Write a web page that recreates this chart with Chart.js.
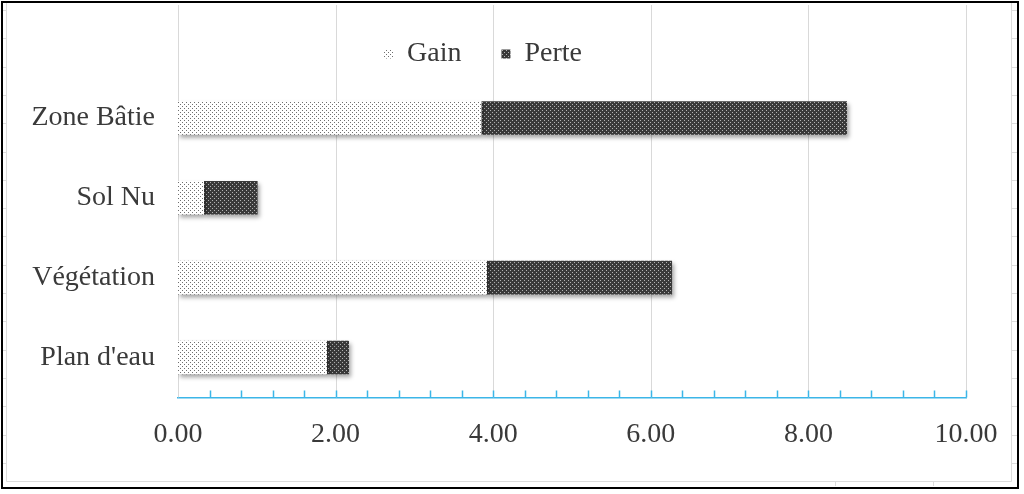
<!DOCTYPE html>
<html>
<head>
<meta charset="utf-8">
<script src="https://cdn.jsdelivr.net/npm/chart.js@4/dist/chart.umd.min.js"></script>
<style>
  html, body { margin:0; padding:0; background:#fff; }
  #wrap { width:1024px; height:494px; }
</style>
</head>
<body>
<div id="wrap"><canvas id="chart" width="1024" height="494"></canvas></div>
<script>
const categories = ['Zone Bâtie', 'Sol Nu', 'Végétation', "Plan d'eau"];
const gain  = [3.85, 0.33, 3.92, 1.89];
const perte = [4.64, 0.68, 2.35, 0.28];
const xTicks = [0, 2, 4, 6, 8, 10];
const minorStep = 0.4;

function makePattern(bg, dot){
  const c = document.createElement('canvas');
  c.width = 4; c.height = 4;
  const g = c.getContext('2d');
  g.fillStyle = bg; g.fillRect(0,0,4,4);
  g.fillStyle = dot;
  g.fillRect(0,0,1,1);
  g.fillRect(2,2,1,1);
  return g.createPattern(c, 'repeat');
}
const gainFill  = makePattern('#ffffff', '#6f6f6f');
const perteFill = makePattern('#3a3a3a', '#b4b4b4');

const FONT = "'Liberation Serif', 'Times New Roman', serif";
const TXT = '#3a3a3a';
const FS = 28;

// page frame (black border + pale sheet lines)
const framePlugin = {
  id: 'frame',
  beforeDraw(chart){
    const ctx = chart.ctx;
    ctx.save();
    ctx.fillStyle = '#fff';
    ctx.fillRect(0,0,chart.width,chart.height);
    ctx.strokeStyle = '#dcdcdc'; ctx.lineWidth = 1;
    ctx.beginPath();
    ctx.moveTo(6.5, 3); ctx.lineTo(6.5, 481.5); ctx.lineTo(1011.5, 481.5); ctx.lineTo(1011.5, 3);
    for (let y = 10; y < 480; y += 28.3){
      ctx.moveTo(3, Math.round(y)+0.5); ctx.lineTo(6, Math.round(y)+0.5);
      ctx.moveTo(1012, Math.round(y)+0.5); ctx.lineTo(1017, Math.round(y)+0.5);
    }
    ctx.moveTo(835.5, 482); ctx.lineTo(835.5, 486);
    ctx.moveTo(933.5, 482); ctx.lineTo(933.5, 486);
    ctx.stroke();
    ctx.strokeStyle = '#000'; ctx.lineWidth = 2;
    ctx.strokeRect(2, 2, 1016, 486);
    ctx.restore();
  }
};

// vertical gridlines (run up through the legend like the original) + bar shadows
const gridShadow = {
  id: 'gridShadow',
  beforeDatasetsDraw(chart){
    const {ctx, chartArea, scales:{x}} = chart;
    ctx.save();
    ctx.strokeStyle = '#d9d9d9'; ctx.lineWidth = 1;
    ctx.beginPath();
    xTicks.forEach(v => {
      const px = Math.round(x.getPixelForValue(v)) + 0.5;
      ctx.moveTo(px, 5); ctx.lineTo(px, chartArea.bottom);
    });
    ctx.stroke();
    ctx.restore();
    ctx.save();
    ctx.shadowColor = 'rgba(0,0,0,0.35)';
    ctx.shadowOffsetX = 2; ctx.shadowOffsetY = 3; ctx.shadowBlur = 4;
  },
  afterDatasetsDraw(chart){
    chart.ctx.restore();
  },
  afterDraw(chart){
    const {ctx, chartArea, scales:{x}} = chart;
    ctx.save();
    ctx.strokeStyle = '#3cb6e8'; ctx.lineWidth = 1.5;
    ctx.beginPath();
    for (let v = minorStep; v <= x.max + 1e-9; v += minorStep){
      const px = Math.round(x.getPixelForValue(v)) + 0.5;
      ctx.moveTo(px, chartArea.bottom); ctx.lineTo(px, chartArea.bottom - 7);
    }
    ctx.stroke();
    ctx.restore();
  }
};

new Chart(document.getElementById('chart'), {
  type: 'bar',
  data: {
    labels: categories,
    datasets: [
      { label: 'Gain', data: gain, backgroundColor: gainFill, borderWidth: 0 },
      { label: 'Perte', data: perte, backgroundColor: perteFill, borderWidth: 0 }
    ]
  },
  options: {
    indexAxis: 'y',
    responsive: false,
    animation: false,
    layout: { padding: { top: 0, right: 58, bottom: 23, left: 0 } },
    datasets: { bar: { categoryPercentage: 1, barPercentage: 0.42 } },
    plugins: {
      legend: {
        position: 'top',
        labels: { font: { family: FONT, size: FS }, color: TXT, boxWidth: 9, boxHeight: 9, padding: 40 }
      },
      tooltip: { enabled: false }
    },
    scales: {
      x: {
        stacked: true, min: 0, max: 10,
        afterBuildTicks: s => { s.ticks = xTicks.map(v => ({ value: v })); },
        grid: { display: false, drawTicks: false },
        border: { display: true, color: '#3cb6e8', width: 1.5 },
        ticks: { padding: 20, color: TXT, font: { family: FONT, size: FS }, callback: v => Number(v).toFixed(2), maxRotation: 0 }
      },
      y: {
        stacked: true,
        grid: { display: false, drawTicks: false },
        border: { display: false },
        afterFit: s => { s.width = 178; },
        ticks: { padding: 23, color: TXT, font: { family: FONT, size: FS } }
      }
    }
  },
  plugins: [framePlugin, gridShadow]
});
</script>
</body>
</html>
